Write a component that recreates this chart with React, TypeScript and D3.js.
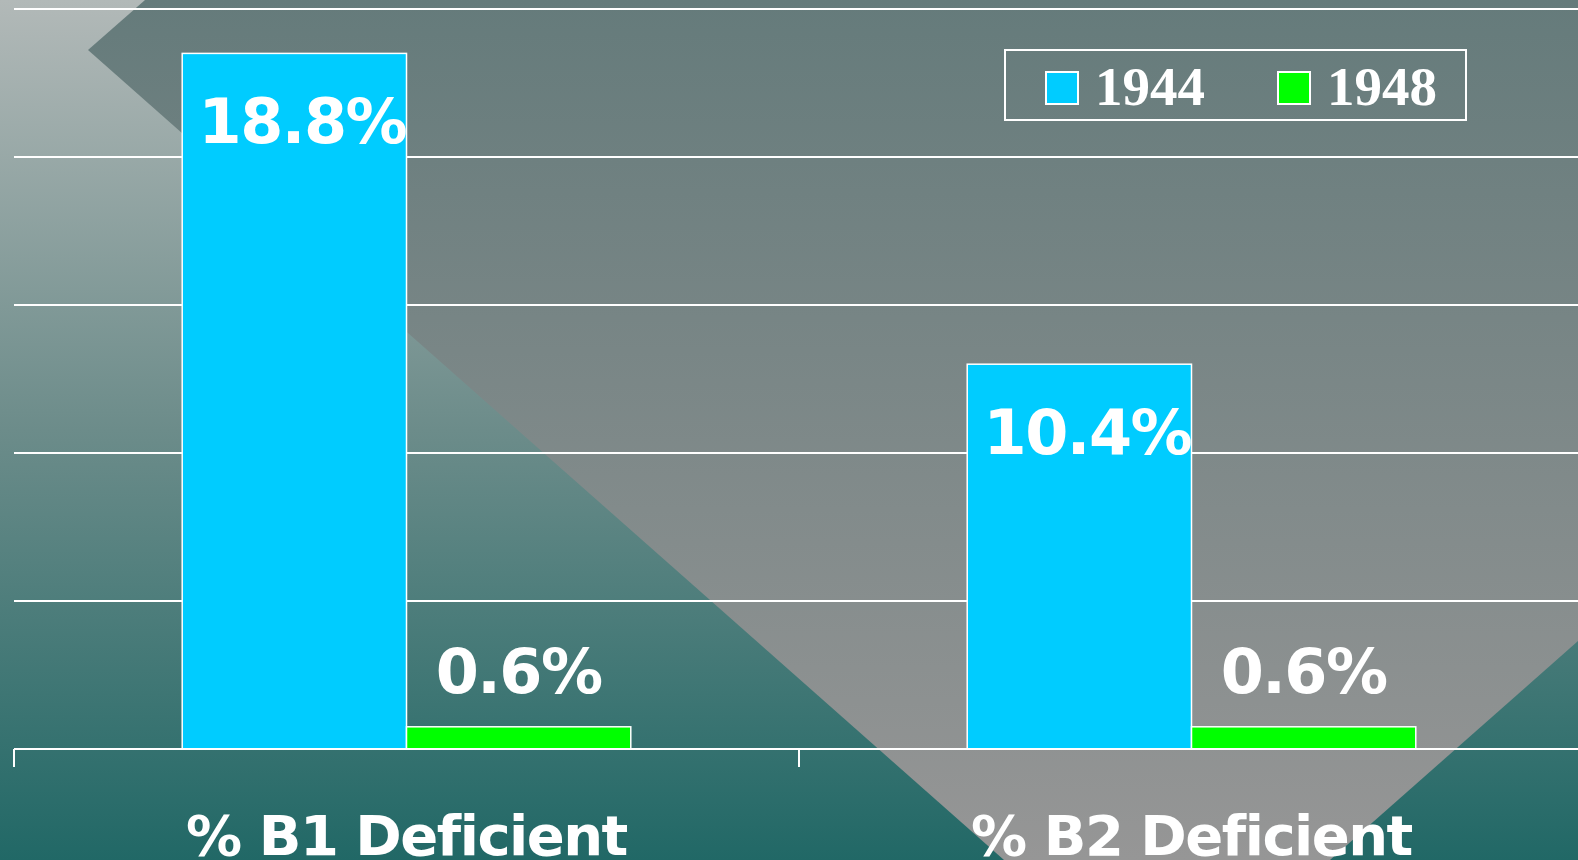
import React from 'react';
import * as d3 from 'd3';

// chart data
const categories = ['% B1 Deficient', '% B2 Deficient'];
const seriesNames = ['1944', '1948'];
const values1944 = [18.8, 10.4];
const values1948 = [0.6, 0.6];
const yTicks = [0, 4, 8, 12, 16, 20];

const colors: Record<string, string> = { '1944': '#00ccff', '1948': '#00ff00' };

const W = 1578;
const H = 860;
const labelFont = "'DejaVu Sans', Verdana, sans-serif";

export default function App() {
  // --- scales ---
  const x0 = d3.scaleBand<string>().domain(categories).range([14, 1584]);
  const x1 = d3.scaleBand<string>().domain(seriesNames).range([0, x0.bandwidth()]).paddingOuter(0.75);
  const y = d3.scaleLinear().domain([0, 20]).range([749, 9]);

  const rows = categories.map((c, i) => ({ cat: c, vals: [values1944[i], values1948[i]] }));

  // background decoration (slide template shapes)
  const grayShape = d3.line()([[145, 0], [W, 0], [W, 641], [1330, H], [1004, H], [88, 50]]) + 'Z';

  return (
    <svg width={W} height={H} style={{ position: 'absolute', left: 0, top: 0, display: 'block' }}>
      <defs>
        <linearGradient id="bg" x1="0" y1="0" x2="0" y2="1">
          <stop offset="0" stopColor="#b2b9b8" />
          <stop offset="0.5" stopColor="#6c8c8a" />
          <stop offset="1" stopColor="#216866" />
        </linearGradient>
        <linearGradient id="gray" x1="0" y1="0" x2="0" y2={H} gradientUnits="userSpaceOnUse">
          <stop offset="0" stopColor="#657b7b" />
          <stop offset="1" stopColor="#969696" />
        </linearGradient>
      </defs>
      <rect width={W} height={H} fill="url(#bg)" />
      <path d={grayShape} fill="url(#gray)" />

      {/* gridlines */}
      {yTicks.filter(t => t > 0).map(t => (
        <line key={t} x1={14} x2={W} y1={y(t)} y2={y(t)} stroke="#fff" strokeWidth={2} />
      ))}

      {/* bars */}
      {rows.map(r => (
        <g key={r.cat} transform={`translate(${x0(r.cat)},0)`}>
          {seriesNames.map((s, j) => (
            <rect key={s} x={x1(s)} y={y(r.vals[j])} width={x1.bandwidth()} height={y(0) - y(r.vals[j])}
              fill={colors[s]} stroke="#fff" strokeWidth={1.5} />
          ))}
        </g>
      ))}

      {/* x axis */}
      <line x1={14} x2={W} y1={y(0)} y2={y(0)} stroke="#fff" strokeWidth={2} />
      {[...categories.map(c => x0(c) as number), 1584].map((tx, i) => (
        <line key={i} x1={tx} x2={tx} y1={y(0)} y2={y(0) + 18} stroke="#fff" strokeWidth={2} />
      ))}

      {/* value labels */}
      {rows.map(r => (
        <g key={r.cat} transform={`translate(${x0(r.cat)},0)`}>
          {seriesNames.map((s, j) => {
            const cx = (x1(s) as number) + x1.bandwidth() / 2;
            const v = r.vals[j];
            const big = s === '1944';
            return (
              <text key={s} x={cx + (big ? 8 : 0)} y={big ? y(v) + 90 : y(v) - 34}
                textAnchor="middle" fill="#fff" fontFamily={labelFont} fontWeight="bold" fontSize={62}
                letterSpacing={-1.5}>
                {v.toFixed(1)}%
              </text>
            );
          })}
        </g>
      ))}

      {/* category labels */}
      {categories.map(c => (
        <text key={c} x={(x0(c) as number) + x0.bandwidth() / 2} y={855} textAnchor="middle"
          fill="#fff" fontFamily={labelFont} fontWeight="bold" fontSize={56} letterSpacing={-1.5}>
          {c}
        </text>
      ))}

      {/* legend */}
      <rect x={1005} y={50} width={461} height={70} fill="none" stroke="#fff" strokeWidth={2} />
      {seriesNames.map((s, i) => (
        <g key={s} transform={`translate(${1045 + i * 232},0)`}>
          <rect x={1} y={72} width={32} height={32} fill={colors[s]} stroke="#fff" strokeWidth={2} />
          <text x={50} y={105} fill="#fff" fontFamily="'Liberation Serif', 'Times New Roman', serif"
            fontWeight="bold" fontSize={55}>{s}</text>
        </g>
      ))}
    </svg>
  );
}
